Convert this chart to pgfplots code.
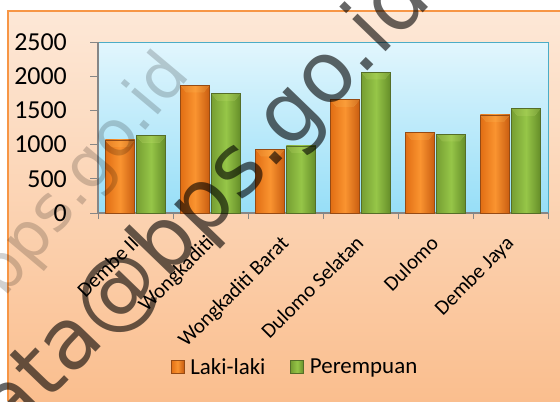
\documentclass[border=0pt]{standalone}
\usepackage{pgfplots}
\pgfplotsset{compat=1.18}
\usepackage{fontspec}
\setmainfont{Carlito}
\newfontfamily\wmfont{DejaVu Sans}
\definecolor{bgtop}{RGB}{253,232,215}
\definecolor{bgbot}{RGB}{250,190,142}
\definecolor{frameor}{RGB}{247,150,70}
\definecolor{plottop}{RGB}{226,246,253}
\definecolor{plotbot}{RGB}{150,222,247}
\definecolor{plotborder}{RGB}{75,172,198}
\definecolor{axisgray}{RGB}{134,134,134}
\definecolor{orL}{RGB}{225,110,20}
\definecolor{orM}{RGB}{250,148,48}
\definecolor{orR}{RGB}{200,92,16}
\definecolor{orD}{RGB}{150,75,20}
\definecolor{orT}{RGB}{255,200,100}
\definecolor{grL}{RGB}{118,158,50}
\definecolor{grM}{RGB}{150,198,72}
\definecolor{grR}{RGB}{100,140,40}
\definecolor{grD}{RGB}{85,110,40}
\definecolor{grT}{RGB}{205,230,120}
\pgfplotstableread{
x lk pr
0 1070 1130
1 1870 1750
2 935 980
3 1660 2060
4 1180 1155
5 1435 1530
}\datatab
\tikzset{
  bevel/.style={path picture={\fill[#1, draw=none, opacity=0.75, path picture={}]
    (path picture bounding box.north west) -- (path picture bounding box.north east)
    -- ([xshift=-6bp,yshift=-7bp]path picture bounding box.north east)
    -- ([xshift=6bp,yshift=-7bp]path picture bounding box.north west) -- cycle;}},
  orbar/.style={draw=orD, line width=0.6bp, left color=orL, right color=orR, middle color=orM},
  grbar/.style={draw=grD, line width=0.6bp, left color=grL, right color=grR, middle color=grM},
}
\begin{document}
\begin{tikzpicture}[x=1bp,y=1bp]
\path[use as bounding box] (0,0) rectangle (560,401);
\begin{scope}
\clip (0,0) rectangle (560,401);
\fill[white] (0,0) rectangle (560,401);
\shade[top color=bgtop, bottom color=bgbot] (8,0) rectangle (560,390);
\draw[frameor, line width=1.2bp] (8,0) -- (8,390) -- (560,390);
\begin{axis}[
  at={(98bp,188bp)}, anchor=south west,
  scale only axis, width=450bp, height=171bp,
  xmin=-0.5, xmax=5.5, ymin=0, ymax=2500,
  ytick={0,500,...,2500},
  xtick={0,...,5},
  xticklabels={Dembe II,Wongkaditi,Wongkaditi Barat,Dulomo Selatan,Dulomo,Dembe Jaya},
  minor xtick={-0.5,0.5,...,5.5},
  axis lines=left,
  axis line style={-, draw=axisgray, line width=1.2bp},
  tick align=outside, major tick length=8bp, minor tick length=6bp,
  xtick style={draw=none},
  minor x tick style={draw=axisgray, line width=1bp},
  ytick style={draw=axisgray, line width=1bp},
  axis background/.style={top color=plottop, bottom color=plotbot, draw=plotborder, line width=1bp},
  /pgf/number format/assume math mode=true,
  /pgf/number format/1000 sep={},
  yticklabel style={font=\fontsize{26}{30}\selectfont, inner sep=0pt, xshift=-23bp},
  xticklabel style={font=\fontsize{21}{25}\selectfont, xshift=-6bp, yshift=-13bp, rotate=45, anchor=north east, inner sep=0pt},
  legend columns=2,
  legend style={at={(0.4356,-0.9006)}, anchor=center, draw=none, fill=none,
    font=\fontsize{23}{27}\selectfont, nodes={inner sep=0pt},
    /tikz/every odd column/.append style={column sep=6bp},
    /tikz/every even column/.append style={column sep=25bp}},
]
\pgfplotsinvokeforeach{0,...,5}{
\addplot[ybar, bar width=29.5bp, bar shift=-15.5bp, orbar, bevel=orT, forget plot]
  table[x=x, y=lk, restrict x to domain=#1:#1] {\datatab};
\addplot[ybar, bar width=29.5bp, bar shift=15.5bp, grbar, bevel=grT, forget plot]
  table[x=x, y=pr, restrict x to domain=#1:#1] {\datatab};
}
\addlegendimage{legend image code/.code={\fill[orbar, line width=0.5bp] (0bp,-6bp) rectangle (13bp,7bp);}}
\addlegendentry{Laki-laki}
\addlegendimage{legend image code/.code={\fill[grbar, line width=0.5bp] (0bp,-6bp) rectangle (13bp,7bp);}}
\addlegendentry{Perempuan}
\end{axis}
\node[rotate=46, anchor=base west, inner sep=0pt, font=\wmfont\fontsize{85}{96}\selectfont, text=black, opacity=0.6] at (-26,-78) {data@bps.go.id};
\node[rotate=50, anchor=base east, inner sep=0pt, font=\wmfont\fontsize{64}{74}\selectfont, text=black, opacity=0.18] at (192,326) {data@bps.go.id};
\end{scope}
\end{tikzpicture}
\end{document}
